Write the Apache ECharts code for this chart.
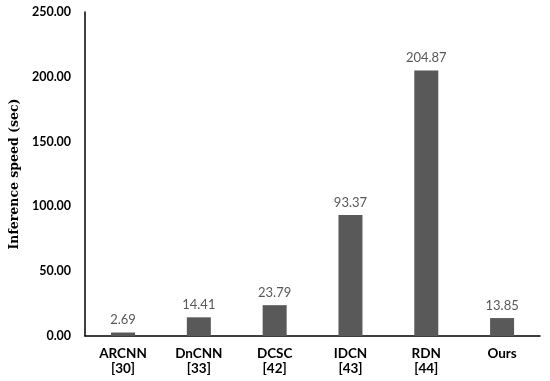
<!DOCTYPE html>
<html><head><meta charset="utf-8">
<script src="https://cdn.jsdelivr.net/npm/echarts@6/dist/echarts.min.js"></script>
<style>html,body{margin:0;padding:0;background:#fff}#c{width:550px;height:381px}</style>
</head><body><div id="c"></div>
<script>
const categories = ["ARCNN\n[30]", "DnCNN\n[33]", "DCSC\n[42]", "IDCN\n[43]", "RDN\n[44]", "Ours"];
const values = [2.69, 14.41, 23.79, 93.37, 204.87, 13.85];
const yTicks = [0, 50, 100, 150, 200, 250];
const chart = echarts.init(document.getElementById('c'), null, {renderer: 'canvas'});
chart.setOption({
  animation: false,
  backgroundColor: '#fff',
  grid: {left: 76, right: 10, top: 12, bottom: 45, containLabel: false},
  xAxis: {
    type: 'category', data: categories,
    axisLine: {lineStyle: {color: '#000', width: 1.5}},
    axisTick: {show: false},
    axisLabel: {color: '#000', fontFamily: 'Lato', fontWeight: 'bold', fontSize: 13.5, lineHeight: 15, margin: 10}
  },
  yAxis: {
    type: 'value', min: yTicks[0], max: yTicks[yTicks.length-1], interval: 50,
    name: 'Inference speed (sec)', nameLocation: 'middle', nameGap: 58,
    nameTextStyle: {fontFamily: 'DejaVu Serif', fontWeight: 'bold', fontSize: 12.5, color: '#000'},
    axisLine: {show: true, lineStyle: {color: '#000', width: 1.5}},
    axisTick: {show: false},
    splitLine: {show: false},
    axisLabel: {color: '#000', fontFamily: 'Lato', fontWeight: 'bold', fontSize: 12.5, margin: 14,
      formatter: v => v.toFixed(2)}
  },
  series: [{
    type: 'bar', data: values, barWidth: 24,
    itemStyle: {color: '#595959'},
    label: {show: true, position: 'top', distance: 6, color: '#595959', fontFamily: 'Lato', fontSize: 13,
      formatter: p => p.value.toFixed(2)}
  }]
});
</script></body></html>
